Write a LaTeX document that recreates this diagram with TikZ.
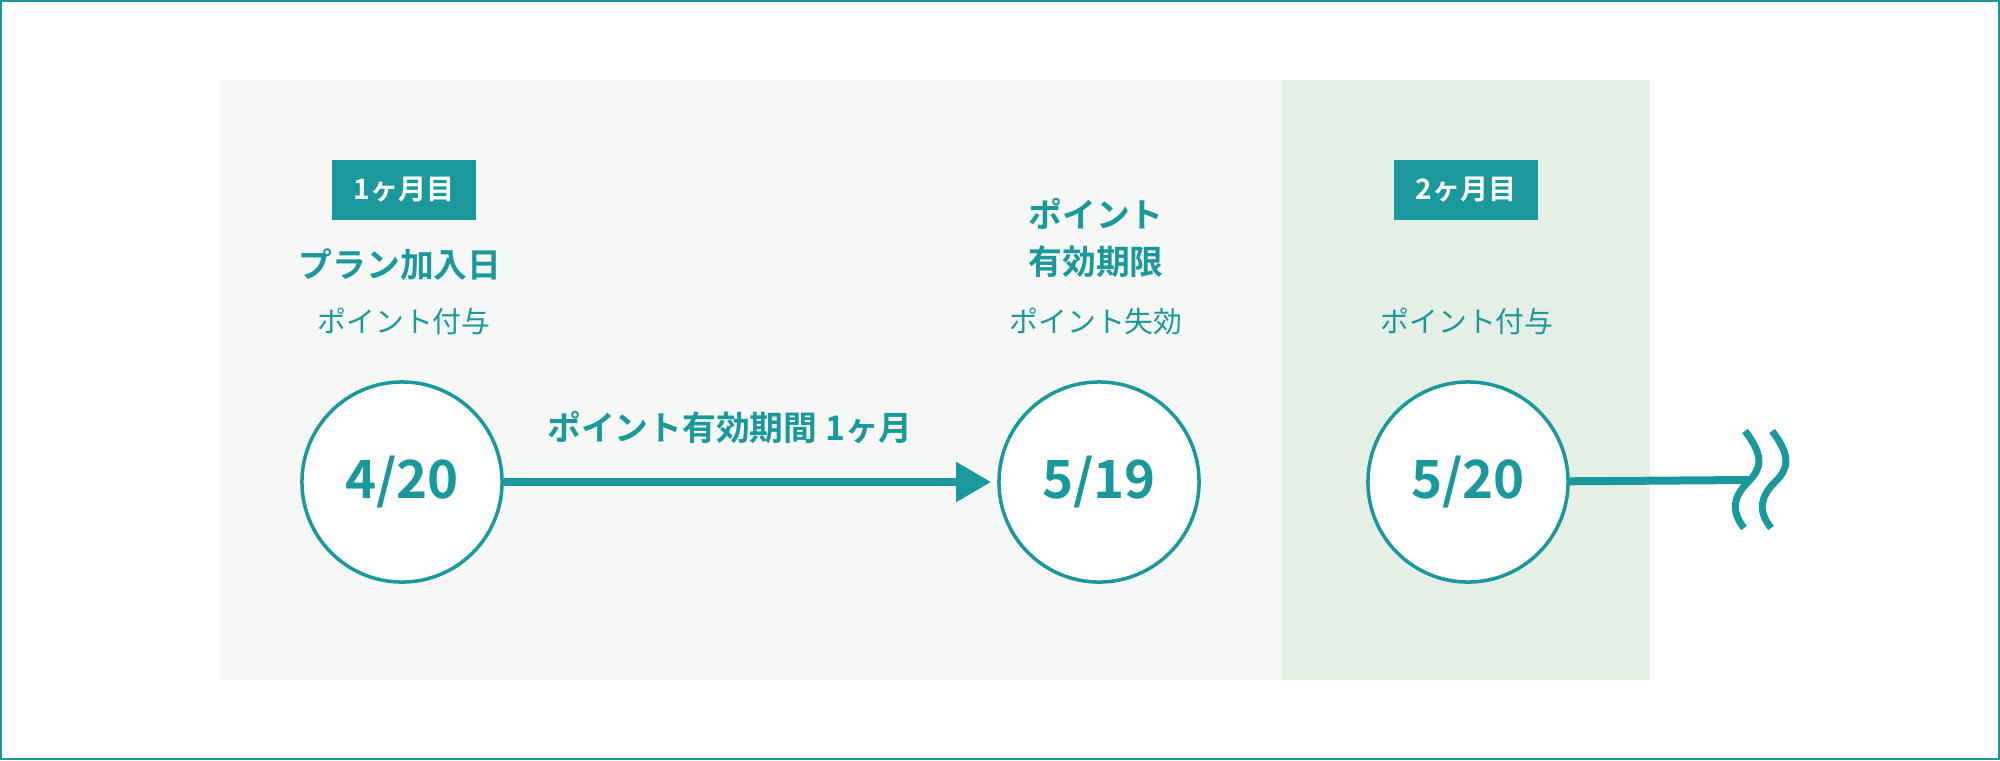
\documentclass[tikz,border=0pt]{standalone}
\usepackage{fontspec}
\setmainfont{Noto Sans CJK JP}[BoldFont={Noto Sans CJK JP Bold}]
\usetikzlibrary{arrows.meta}
\definecolor{teal1}{HTML}{1A989B}
\definecolor{panelA}{HTML}{F5F8F5}
\definecolor{panelB}{HTML}{E6EFE5}
\tikzset{
	datecircle/.style={circle, draw=teal1, line width=1pt, fill=white, minimum size=2cm, inner sep=0pt,
		text=teal1, font=\fontsize{15}{15}\selectfont\bfseries},
	monthbadge/.style={fill=teal1, text=white, minimum width=1.43cm, minimum height=0.6cm, inner sep=0pt,
		font=\fontsize{8}{8}\selectfont\bfseries},
	headlabel/.style={text=teal1, align=center, font=\fontsize{9.6}{13.5}\selectfont\bfseries},
	sublabel/.style={text=teal1, font=\fontsize{8.2}{8.2}\selectfont},
	timeline/.style={draw=teal1, line width=0.08cm}
}
\begin{document}
\begin{tikzpicture}[x=0.01cm,y=-0.01cm]
		\useasboundingbox (0,0) rectangle (2000,760);
		% frame and month panels
		\fill[white] (0,0) rectangle (2000,760);
		\draw[teal1, line width=0.02cm] (1,1) rectangle (1999,759);
		\fill[panelA] (220,80) rectangle (1282,680);
		\fill[panelB] (1282,80) rectangle (1650,680);
		
		% first month
		\node[monthbadge] (badge1) at (404,190) {1ヶ月目};
		\node[headlabel] (join) at (400,265) {プラン加入日};
		\node[sublabel] (give1) at (404,321) {ポイント付与};
		\node[datecircle] (d1) at (402,482) {4/20};
		
		% expiry
		\node[headlabel] (expire) at (1096,238) {ポイント\\有効期限};
		\node[sublabel] (lose) at (1096,321) {ポイント失効};
		\node[datecircle] (d2) at (1099,482) {5/19};
		
		\draw[timeline, -{Triangle[length=0.35cm, width=0.38cm]}, shorten >=0.06cm] (d1) -- (d2);
		\node[headlabel] (span) at (730,428) {ポイント有効期間 1ヶ月};
		
		% second month
		\node[monthbadge] (badge2) at (1466,190) {2ヶ月目};
		\node[sublabel] (give2) at (1467,321) {ポイント付与};
		\node[datecircle] (d3) at (1468,482) {5/20};
		
		\coordinate (cut) at (1748,480);
		\draw[timeline] (d3) -- (cut);
		% break marks
		\foreach \dx in {0,27}
		\draw[teal1, line width=0.07cm, line cap=butt]
			(1745+\dx,431) .. controls (1766+\dx,458) and (1760+\dx,470) .. (1748+\dx,482)
			.. controls (1734+\dx,496) and (1730+\dx,510) .. (1744+\dx,528);
\end{tikzpicture}
\end{document}
